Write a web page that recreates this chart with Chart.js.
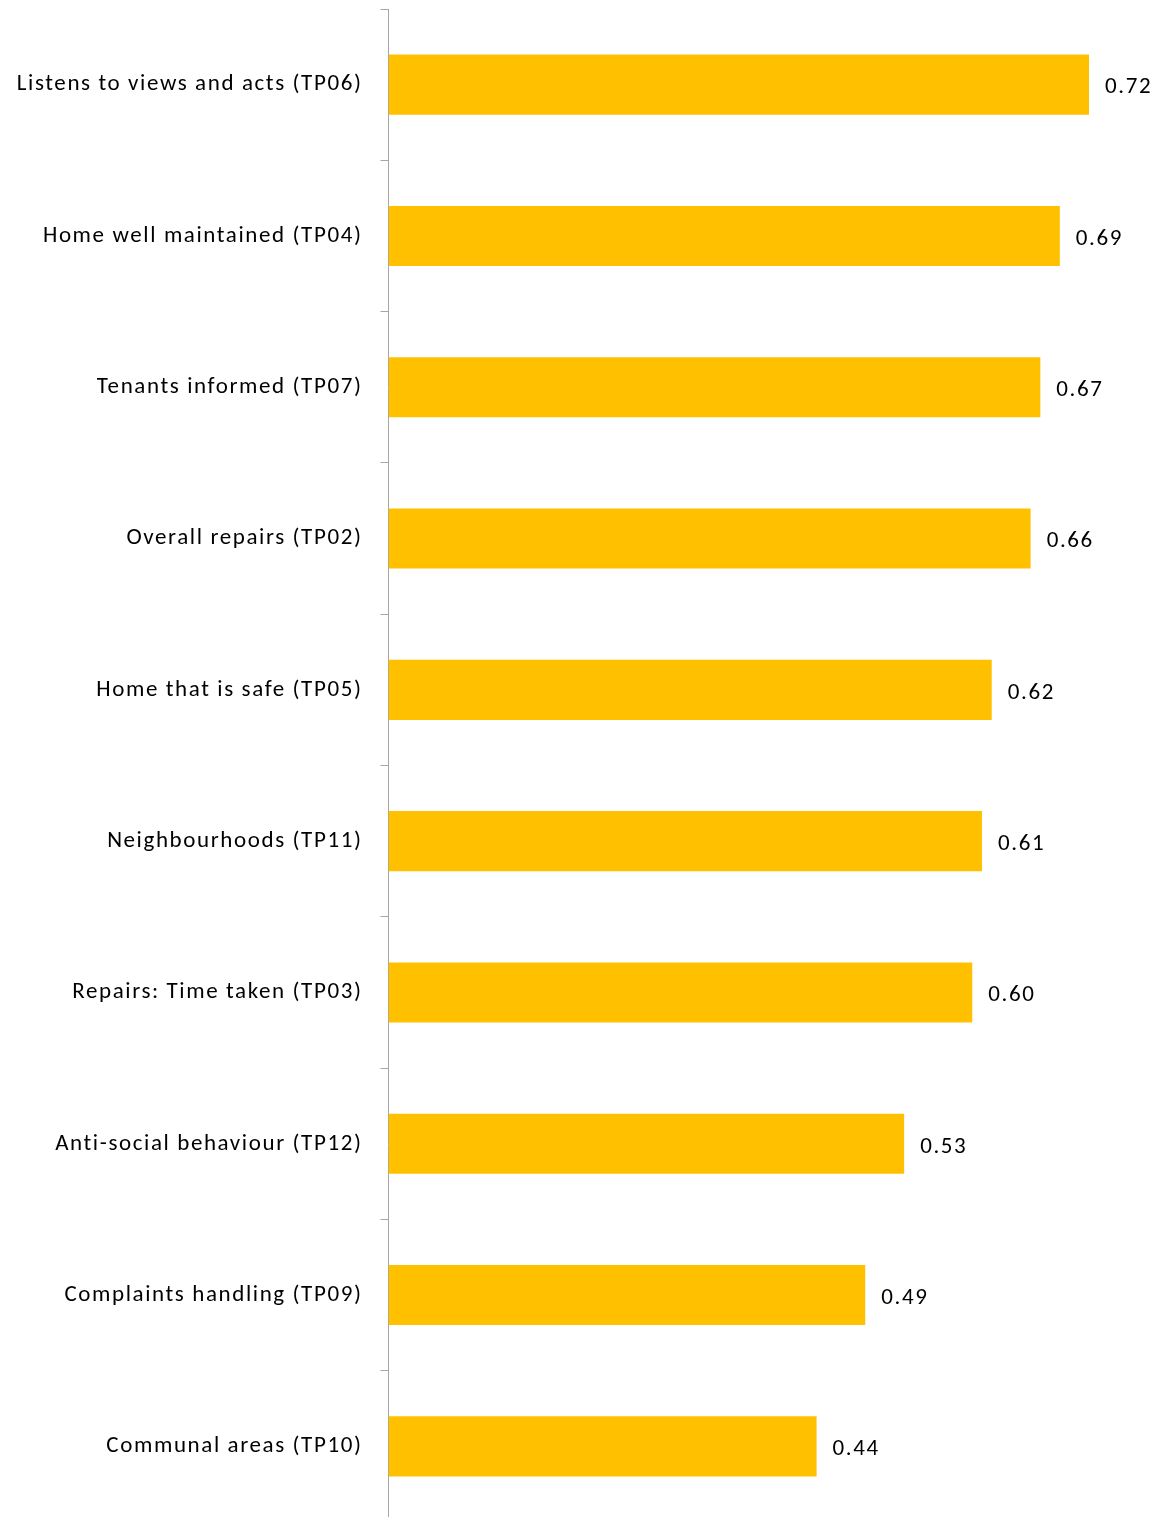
<!DOCTYPE html>
<html>
<head>
<meta charset="utf-8">
<script src="https://cdn.jsdelivr.net/npm/chart.js@4.4.0/dist/chart.umd.min.js"></script>
<style>
    html, body { margin: 0; padding: 0; background: #fff; overflow: hidden; }
    #wrap { position: relative; width: 1161px; height: 1522px; }
</style>
</head>
<body>
<div id="wrap"><canvas id="tp-chart"></canvas></div>
<script>
const measures = [
    'Listens to views and acts (TP06)',
    'Home well maintained (TP04)',
    'Tenants informed (TP07)',
    'Overall repairs (TP02)',
    'Home that is safe (TP05)',
    'Neighbourhoods (TP11)',
    'Repairs: Time taken (TP03)',
    'Anti-social behaviour (TP12)',
    'Complaints handling (TP09)',
    'Communal areas (TP10)'
];
const scores = [0.72, 0.69, 0.67, 0.66, 0.62, 0.61, 0.60, 0.53, 0.49, 0.44];

const FONT = "Carlito, Lato, 'Open Sans', sans-serif";
const SPACING = '1.6px';

// Canvas resets wipe letterSpacing, so put it back before each draw
const textSpacing = {
    id: 'textSpacing',
    beforeDraw(chart) { chart.ctx.letterSpacing = SPACING; }
};

// Prints each score just past the end of its bar
const valueLabels = {
    id: 'valueLabels',
    afterDatasetsDraw(chart) {
        const ctx = chart.ctx;
        const meta = chart.getDatasetMeta(0);
        ctx.save();
        ctx.letterSpacing = SPACING;
        ctx.font = `23px ${FONT}`;
        ctx.fillStyle = '#000';
        ctx.textAlign = 'left';
        ctx.textBaseline = 'middle';
        meta.data.forEach((bar, i) => {
            ctx.fillText(scores[i].toFixed(2), bar.x + 16, bar.y + 3);
        });
        ctx.restore();
    }
};

new Chart(document.getElementById('tp-chart'), {
    type: 'bar',
    data: {
        labels: measures,
        datasets: [{
            data: scores,
            backgroundColor: '#FFC000',
            borderWidth: 0,
            barPercentage: 0.397,
            categoryPercentage: 1
        }]
    },
    options: {
        indexAxis: 'y',
        responsive: true,
        maintainAspectRatio: false,
        animation: false,
        layout: { padding: { top: 9, right: 0, bottom: 0, left: 0 } },
        plugins: {
            legend: { display: false },
            tooltip: { enabled: false }
        },
        scales: {
            x: {
                display: false,
                min: 0,
                max: 0.794
            },
            y: {
                afterFit: (scale) => {
                    scale.width = 388.5;
                    scale.paddingTop = 0;
                    scale.paddingBottom = 0;
                },
                grid: {
                    offset: true,
                    drawOnChartArea: false,
                    drawTicks: true,
                    tickLength: 8,
                    color: '#a6a6a6'
                },
                border: { color: '#a6a6a6', width: 1 },
                ticks: {
                    color: '#000',
                    padding: 18,
                    font: { family: FONT, size: 23 }
                }
            }
        }
    },
    plugins: [textSpacing, valueLabels]
});
</script>
</body>
</html>
